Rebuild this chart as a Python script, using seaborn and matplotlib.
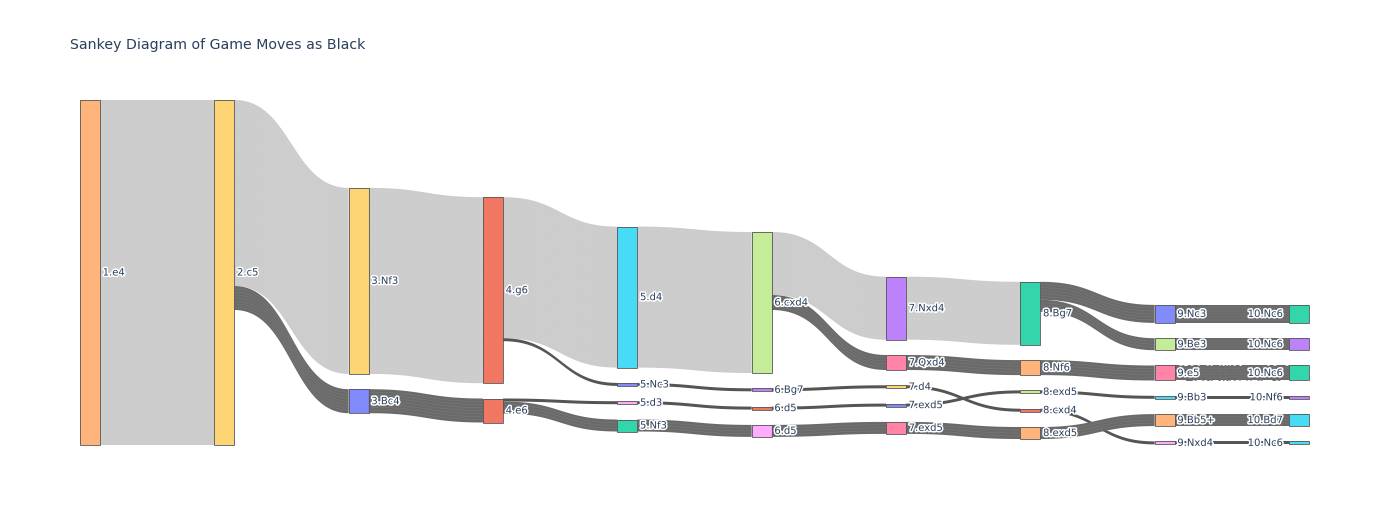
import numpy as np
import matplotlib
matplotlib.use("Agg")
import matplotlib.pyplot as plt
import matplotlib.patheffects as pe
import seaborn as sns

# ===================== 数据 =====================
node_labels = ["1.e4", "2.c5", "3.Nf3", "3.Bc4", "4.g6", "4.e6",
               "5.d4", "5.Nc3", "5.d3", "5.Nf3",
               "6.cxd4", "6.Bg7", "6.d5", "6.d5",
               "7.Nxd4", "7.Qxd4", "7.d4", "7.exd5", "7.exd5",
               "8.Bg7", "8.Nf6", "8.exd5", "8.cxd4", "8.exd5",
               "9.Nc3", "9.Be3", "9.e5", "9.Bb3", "9.Bb5+", "9.Nxd4",
               "10.Nc6", "10.Nc6", "10.Nc6", "10.Nf6", "10.Bd7", "10.Nc6"]
# 每个节点所在的列（第几步）
node_col = [0, 1, 2, 2, 3, 3,
            4, 4, 4, 4,
            5, 5, 5, 5,
            6, 6, 6, 6, 6,
            7, 7, 7, 7, 7,
            8, 8, 8, 8, 8, 8,
            9, 9, 9, 9, 9, 9]
link_source = [0, 1, 1, 2, 3, 4, 4, 5, 5, 6, 7, 8, 9, 10, 10, 11, 12, 13,
               14, 15, 16, 17, 18, 19, 19, 20, 21, 22, 23, 24, 25, 26, 27, 28, 29]
link_target = [1, 2, 3, 4, 5, 6, 7, 8, 9, 10, 11, 12, 13, 14, 15, 16, 17, 18,
               19, 20, 22, 21, 23, 24, 25, 26, 27, 29, 28, 30, 31, 32, 33, 34, 35]
link_value = [115, 62, 8, 62, 8, 47, 1, 1, 4, 47, 1, 1, 4, 21, 5, 1, 1, 4,
              21, 5, 1, 1, 4, 6, 4, 5, 1, 1, 4, 6, 4, 5, 1, 4, 1]

# ===================== 样式/布局 =====================
pal = dict(zip(["blue", "red", "green", "purple", "orange", "cyan", "pink", "lgreen", "lpink", "yellow"],
               sns.color_palette(["#636efa", "#ef553b", "#00cc96", "#ab63fa", "#ffa15a",
                                  "#19d3f3", "#ff6692", "#b6e880", "#ff97ff", "#fecb52"])))
node_color_names = ["orange", "yellow", "yellow", "blue", "red", "red",
                    "cyan", "blue", "lpink", "green",
                    "lgreen", "purple", "red", "lpink",
                    "purple", "pink", "yellow", "blue", "pink",
                    "green", "orange", "lgreen", "red", "orange",
                    "blue", "lgreen", "pink", "cyan", "orange", "lpink",
                    "green", "purple", "green", "purple", "cyan", "cyan"]
col_offset = [0, 0, 29.3, 32.4, 42.2, 44.0, 58.9, 60.6, 68.3, 68.3]  # 每列节点堆叠的起点
node_pad = 5.1
total = 115
node_w = 20 / 134.33

sns.set_theme(style="white")
plt.rcParams["font.family"] = ["DejaVu Sans"]

n_nodes = len(node_labels)
n_cols = max(node_col) + 1

# 节点数值 = max(流入, 流出)
inflow = np.zeros(n_nodes)
outflow = np.zeros(n_nodes)
for s, t, v in zip(link_source, link_target, link_value):
    outflow[s] += v
    inflow[t] += v
node_val = np.maximum(inflow, outflow)

# 按列堆叠节点
node_top = np.zeros(n_nodes)
for c in range(n_cols):
    y = col_offset[c]
    for i in range(n_nodes):
        if node_col[i] == c:
            node_top[i] = y
            y += node_val[i] + node_pad

# 连线在两端的起始位置
out_pos = node_top.copy()
in_pos = node_top.copy()
order = sorted(range(len(link_value)), key=lambda k: (link_source[k], node_top[link_target[k]]))
link_y0 = {}
for k in order:
    s = link_source[k]
    link_y0[k] = out_pos[s]
    out_pos[s] += link_value[k]
order = sorted(range(len(link_value)), key=lambda k: (link_target[k], node_top[link_source[k]]))
link_y1 = {}
for k in order:
    t = link_target[k]
    link_y1[k] = in_pos[t]
    in_pos[t] += link_value[k]


def bezier(x0, x1, y0, y1, n=80):
    t = np.linspace(0, 1, n)
    xm = (x0 + x1) / 2
    x = (1 - t) ** 3 * x0 + 3 * (1 - t) ** 2 * t * xm + 3 * (1 - t) * t ** 2 * xm + t ** 3 * x1
    y = (1 - t) ** 3 * y0 + 3 * (1 - t) ** 2 * t * y0 + 3 * (1 - t) * t ** 2 * y1 + t ** 3 * y1
    return x, y


# ===================== 绘图 =====================
fig = plt.figure(figsize=(13.89, 5.25), dpi=100)
ax = fig.add_axes([80 / 1389, 1 - 445 / 525, 1229 / 1389, 345 / 525])
ax.set_xlim(-node_w / 2, n_cols - 1 + node_w / 2)
ax.set_ylim(total, 0)
ax.axis("off")

for k, v in enumerate(link_value):
    s, t = link_source[k], link_target[k]
    x0 = node_col[s] + node_w / 2
    x1 = node_col[t] - node_w / 2
    if v >= 15:
        color = "#cccccc"
    elif v == 1:
        color = "#555555"
    else:
        color = "#6a6a6a"
    xa, ya = bezier(x0, x1, link_y0[k], link_y1[k])
    xb, yb = bezier(x0, x1, link_y0[k] + v, link_y1[k] + v)
    ax.fill(np.concatenate([xa, xb[::-1]]), np.concatenate([ya, yb[::-1]]),
            color=color, lw=0, zorder=1, clip_on=False)
    # 每局一条细线，叠加出淡淡的条纹
    for u in range(1, v):
        xu, yu = bezier(x0, x1, link_y0[k] + u, link_y1[k] + u)
        ax.plot(xu, yu, color="white", lw=0.35, alpha=0.12, zorder=2, clip_on=False)

for i in range(n_nodes):
    c = node_col[i]
    ax.add_patch(plt.Rectangle((c - node_w / 2, node_top[i]), node_w, node_val[i],
                               facecolor=pal[node_color_names[i]], alpha=0.8,
                               lw=0, zorder=3, clip_on=False))
    ax.add_patch(plt.Rectangle((c - node_w / 2, node_top[i]), node_w, node_val[i],
                               facecolor="none", edgecolor="#555555", lw=0.6, zorder=4, clip_on=False))
    yc = node_top[i] + node_val[i] / 2
    if c == n_cols - 1:
        xt, ha = c - node_w / 2 - 0.045, "right"
    else:
        xt, ha = c + node_w / 2 + 0.02, "left"
    ax.text(xt, yc, node_labels[i], ha=ha, va="center", fontsize=7.2, color="#2a3f5f",
            zorder=5, path_effects=[pe.withStroke(linewidth=2.2, foreground="white")])

fig.text(70 / 1389, 1 - 45 / 525, "Sankey Diagram of Game Moves as Black",
         ha="left", va="center", fontsize=10.2, color="#2a3f5f")

plt.savefig("out.png", dpi=100)
